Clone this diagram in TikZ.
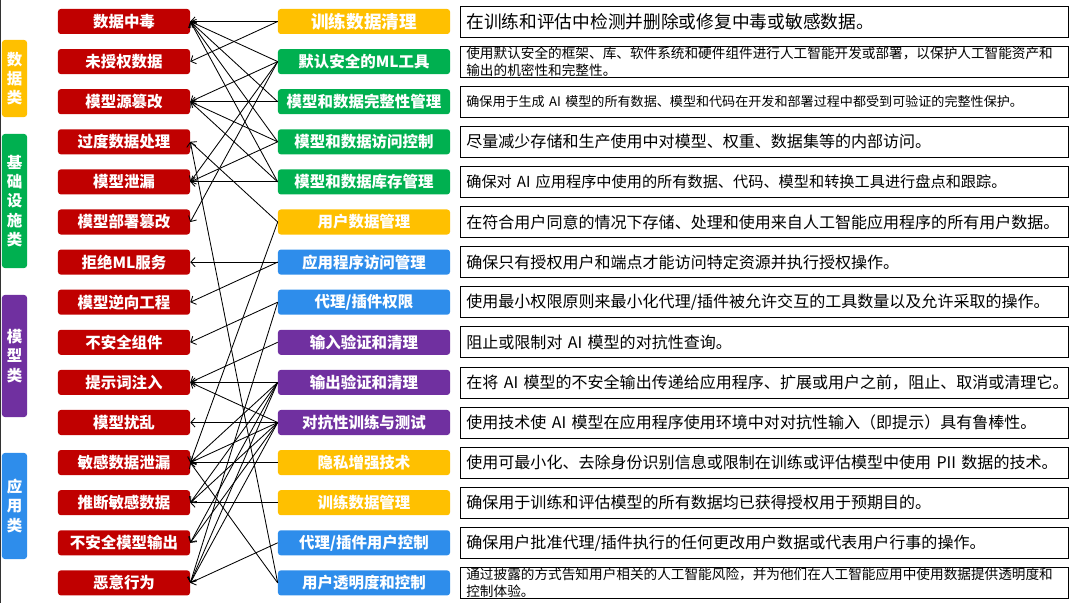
\documentclass[tikz,border=0pt]{standalone}
\usepackage{fontspec}
\setmainfont{Noto Sans CJK SC}
\usepackage{xcolor}
\usetikzlibrary{arrows.meta}

\definecolor{riskred}{HTML}{C00000}
\definecolor{ctlyellow}{HTML}{FFC000}
\definecolor{ctlgreen}{HTML}{00B050}
\definecolor{ctlpurple}{HTML}{7030A0}
\definecolor{ctlblue}{HTML}{2E8DEB}

\tikzset{
  cat/.style={rounded corners=2pt, text=white, font=\bfseries\fontsize{11}{13.6}\selectfont, minimum width=0.625cm, inner sep=0pt, align=center},
  risk/.style={fill=riskred, rounded corners=2pt, text=white, font=\bfseries\fontsize{11}{13}\selectfont, minimum width=3.3cm, minimum height=0.625cm, inner sep=0pt},
  ctrl/.style={rounded corners=2pt, text=white, font=\bfseries\fontsize{11}{13}\selectfont, minimum width=4.3cm, minimum height=0.625cm, inner sep=0pt},
  desc/.style={draw=black, line width=0.5pt, anchor=west, minimum width=15.2cm, minimum height=0.775cm, text width=14.9cm, inner xsep=0.15cm, inner ysep=0pt, align=left, font=\fontsize{11.4}{13.4}\selectfont},
  link/.style={-{Straight Barb[length=3pt,width=6.5pt]}, line width=0.6pt}
}

\begin{document}
\begin{tikzpicture}[x=0.025cm, y=-0.025cm]
  \useasboundingbox (0,0) rectangle (1080,603);
  \draw[line width=0.8pt, black!80] (0.6,0) -- (0.6,603);

  \node[cat, fill=ctlyellow, minimum height=1.925cm] (c1) at (14.5,78.5) {数\\据\\类};
  \node[cat, fill=ctlgreen, minimum height=3.35cm] (c2) at (14.5,201) {基\\础\\设\\施\\类};
  \node[cat, fill=ctlpurple, minimum height=3.05cm] (c3) at (14.5,356) {模\\型\\类};
  \node[cat, fill=ctlblue, minimum height=2.65cm] (c4) at (14.5,506) {应\\用\\类};

  \node[risk] (l1) at (124,21.5) {数据中毒};
  \node[risk] (l2) at (124,61.6) {未授权数据};
  \node[risk] (l3) at (124,101.7) {模型源篡改};
  \node[risk] (l4) at (124,141.8) {过度数据处理};
  \node[risk] (l5) at (124,181.9) {模型泄漏};
  \node[risk] (l6) at (124,222) {模型部署篡改};
  \node[risk] (l7) at (124,262.1) {拒绝ML服务};
  \node[risk] (l8) at (124,302.2) {模型逆向工程};
  \node[risk] (l9) at (124,342.3) {不安全组件};
  \node[risk] (l10) at (124,382.4) {提示词注入};
  \node[risk] (l11) at (124,422.5) {模型扰乱};
  \node[risk] (l12) at (124,462.6) {敏感数据泄漏};
  \node[risk] (l13) at (124,502.7) {推断敏感数据};
  \node[risk] (l14) at (124,542.8) {不安全模型输出};
  \node[risk] (l15) at (124,582.9) {恶意行为};

  \node[ctrl, fill=ctlyellow, font=\bfseries\fontsize{12.5}{14}\selectfont] (m1) at (364,21.5) {训练数据清理};
  \node[ctrl, fill=ctlgreen] (m2) at (364,61.6) {默认安全的ML工具};
  \node[ctrl, fill=ctlgreen] (m3) at (364,101.7) {模型和数据完整性管理};
  \node[ctrl, fill=ctlgreen] (m4) at (364,141.8) {模型和数据访问控制};
  \node[ctrl, fill=ctlgreen] (m5) at (364,181.9) {模型和数据库存管理};
  \node[ctrl, fill=ctlyellow] (m6) at (364,222) {用户数据管理};
  \node[ctrl, fill=ctlblue] (m7) at (364,262.1) {应用程序访问管理};
  \node[ctrl, fill=ctlblue] (m8) at (364,302.2) {代理/插件权限};
  \node[ctrl, fill=ctlpurple] (m9) at (364,342.3) {输入验证和清理};
  \node[ctrl, fill=ctlpurple] (m10) at (364,382.4) {输出验证和清理};
  \node[ctrl, fill=ctlpurple] (m11) at (364,422.5) {对抗性训练与测试};
  \node[ctrl, fill=ctlyellow] (m12) at (364,462.6) {隐私增强技术};
  \node[ctrl, fill=ctlyellow] (m13) at (364,502.7) {训练数据管理};
  \node[ctrl, fill=ctlblue] (m14) at (364,542.8) {代理/插件用户控制};
  \node[ctrl, fill=ctlblue] (m15) at (364,582.9) {用户透明度和控制};

  \node[desc, font=\fontsize{12.6}{14}\selectfont] (d1) at (460,21.5) {在训练和评估中检测并删除或修复中毒或敏感数据。};
  \node[desc, font=\fontsize{9.7}{11.6}\selectfont] (d2) at (460,61.6) {使用默认安全的框架、库、软件系统和硬件组件进行人工智能开发或部署，以保护人工智能资产和\\输出的机密性和完整性。};
  \node[desc, font=\fontsize{9.3}{12}\selectfont] (d3) at (460,101.7) {确保用于生成 AI 模型的所有数据、模型和代码在开发和部署过程中都受到可验证的完整性保护。};
  \node[desc] (d4) at (460,141.8) {尽量减少存储和生产使用中对模型、权重、数据集等的内部访问。};
  \node[desc, font=\fontsize{10.8}{12.8}\selectfont] (d5) at (460,181.9) {确保对 AI 应用程序中使用的所有数据、代码、模型和转换工具进行盘点和跟踪。};
  \node[desc] (d6) at (460,222) {在符合用户同意的情况下存储、处理和使用来自人工智能应用程序的所有用户数据。};
  \node[desc] (d7) at (460,262.1) {确保只有授权用户和端点才能访问特定资源并执行授权操作。};
  \node[desc] (d8) at (460,302.2) {使用最小权限原则来最小化代理/插件被允许交互的工具数量以及允许采取的操作。};
  \node[desc] (d9) at (460,342.3) {阻止或限制对 AI 模型的对抗性查询。};
  \node[desc] (d10) at (460,382.4) {在将 AI 模型的不安全输出传递给应用程序、扩展或用户之前，阻止、取消或清理它。};
  \node[desc] (d11) at (460,422.5) {使用技术使 AI 模型在应用程序使用环境中对对抗性输入（即提示）具有鲁棒性。};
  \node[desc] (d12) at (460,462.6) {使用可最小化、去除身份识别信息或限制在训练或评估模型中使用 PII 数据的技术。};
  \node[desc] (d13) at (460,502.7) {确保用于训练和评估模型的所有数据均已获得授权用于预期目的。};
  \node[desc] (d14) at (460,542.8) {确保用户批准代理/插件执行的任何更改用户数据或代表用户行事的操作。};
  \node[desc, font=\fontsize{9.7}{11.6}\selectfont] (d15) at (460,582.9) {通过披露的方式告知用户相关的人工智能风险，并为他们在人工智能应用中使用数据提供透明度和\\控制体验。};

  \draw[link] (m1.west) -- (l1.east);
  \draw[link] (m1.west) -- (l2.east);
  \draw[link] (m2.west) -- (l1.east);
  \draw[link] (m2.west) -- (l3.east);
  \draw[link] (m2.west) -- (l5.east);
  \draw[link] (m2.west) -- (l6.east);
  \draw[link] (m3.west) -- (l1.east);
  \draw[link] (m3.west) -- (l3.east);
  \draw[link] (m4.west) -- (l1.east);
  \draw[link] (m4.west) -- (l3.east);
  \draw[link] (m4.west) -- (l5.east);
  \draw[link] (m5.west) -- (l1.east);
  \draw[link] (m5.west) -- (l3.east);
  \draw[link] (m5.west) -- (l5.east);
  \draw[link] (m6.west) -- (l4.east);
  \draw[link] (m6.west) -- (l12.east);
  \draw[link] (m7.west) -- (l7.east);
  \draw[link] (m7.west) -- (l8.east);
  \draw[link] (m8.west) -- (l9.east);
  \draw[link] (m8.west) -- (l15.east);
  \draw[link] (m9.west) -- (l10.east);
  \draw[link] (m10.west) -- (l10.east);
  \draw[link] (m10.west) -- (l12.east);
  \draw[link] (m10.west) -- (l13.east);
  \draw[link] (m10.west) -- (l14.east);
  \draw[link] (m10.west) -- (l15.east);
  \draw[link] (m11.west) -- (l10.east);
  \draw[link] (m11.west) -- (l11.east);
  \draw[link] (m11.west) -- (l12.east);
  \draw[link] (m11.west) -- (l13.east);
  \draw[link] (m11.west) -- (l14.east);
  \draw[link] (m11.west) -- (l15.east);
  \draw[link] (m12.west) -- (l12.east);
  \draw[link] (m13.west) -- (l13.east);
  \draw[link] (m14.west) -- (l15.east);
  \draw[link] (m15.west) -- (l4.east);
  \draw[link] (m15.west) -- (l12.east);
\end{tikzpicture}
\end{document}
